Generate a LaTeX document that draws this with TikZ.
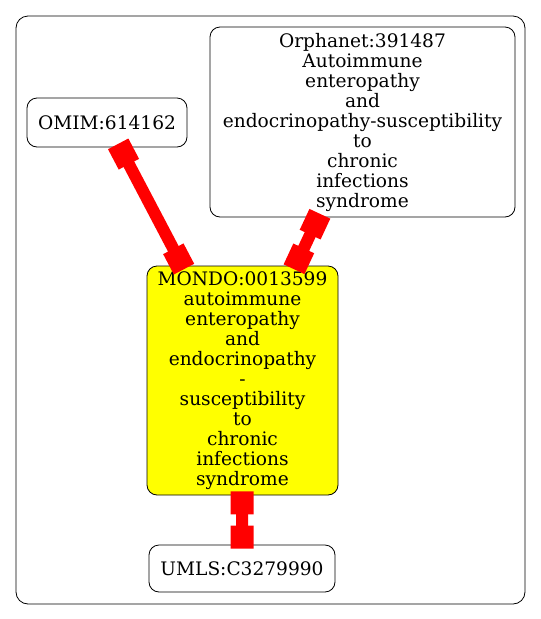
\documentclass[tikz,border=0pt]{standalone}
\usepackage{fontspec}
\setmainfont{DejaVu Serif}
\usetikzlibrary{arrows.meta}
\definecolor{XrefRed}{HTML}{FF0000}
\definecolor{FocusYellow}{HTML}{FFFF00}
\tikzset{
  term/.style={rounded corners=10pt, draw=black, fill=white, line width=0.8pt,
               align=center, inner sep=0pt, font=\fontsize{18.6}{20}\selectfont},
  focus/.style={term, fill=FocusYellow},
  xref/.style={draw=XrefRed, line width=12pt, shorten <=-4pt, shorten >=-4pt,
               {Rectangle[length=23pt,width=23pt]}-{Rectangle[length=23pt,width=23pt]}},
  cluster/.style={rounded corners=12pt, draw=black, line width=0.8pt},
}

\begin{document}
\begin{tikzpicture}[x=1pt,y=-1pt]
  \useasboundingbox (0,0) rectangle (541,619);
  \draw[cluster] (16,16) rectangle (525,604);
  % terms
  \node[term, minimum width=160pt, minimum height=49pt] (omim) at (107,122.5) {OMIM:614162};
  \node[term, minimum width=305pt, minimum height=190pt] (orpha) at (362.5,122)
    {Orphanet:391487\\Autoimmune\\enteropathy\\and\\endocrinopathy-susceptibility\\to\\chronic\\infections\\syndrome};
  \node[focus, minimum width=191pt, minimum height=229pt] (mondo) at (242.5,380.5)
    {MONDO:0013599\\autoimmune\\enteropathy\\and\\endocrinopathy\\-\\susceptibility\\to\\chronic\\infections\\syndrome};
  \node[term, minimum width=186pt, minimum height=47pt] (umls) at (242,568.5) {UMLS:C3279990};
  % cross references
  \draw[xref] (omim) -- (mondo);
  \draw[xref] (orpha) -- (mondo);
  \draw[xref] (mondo) -- (umls);
\end{tikzpicture}
\end{document}
